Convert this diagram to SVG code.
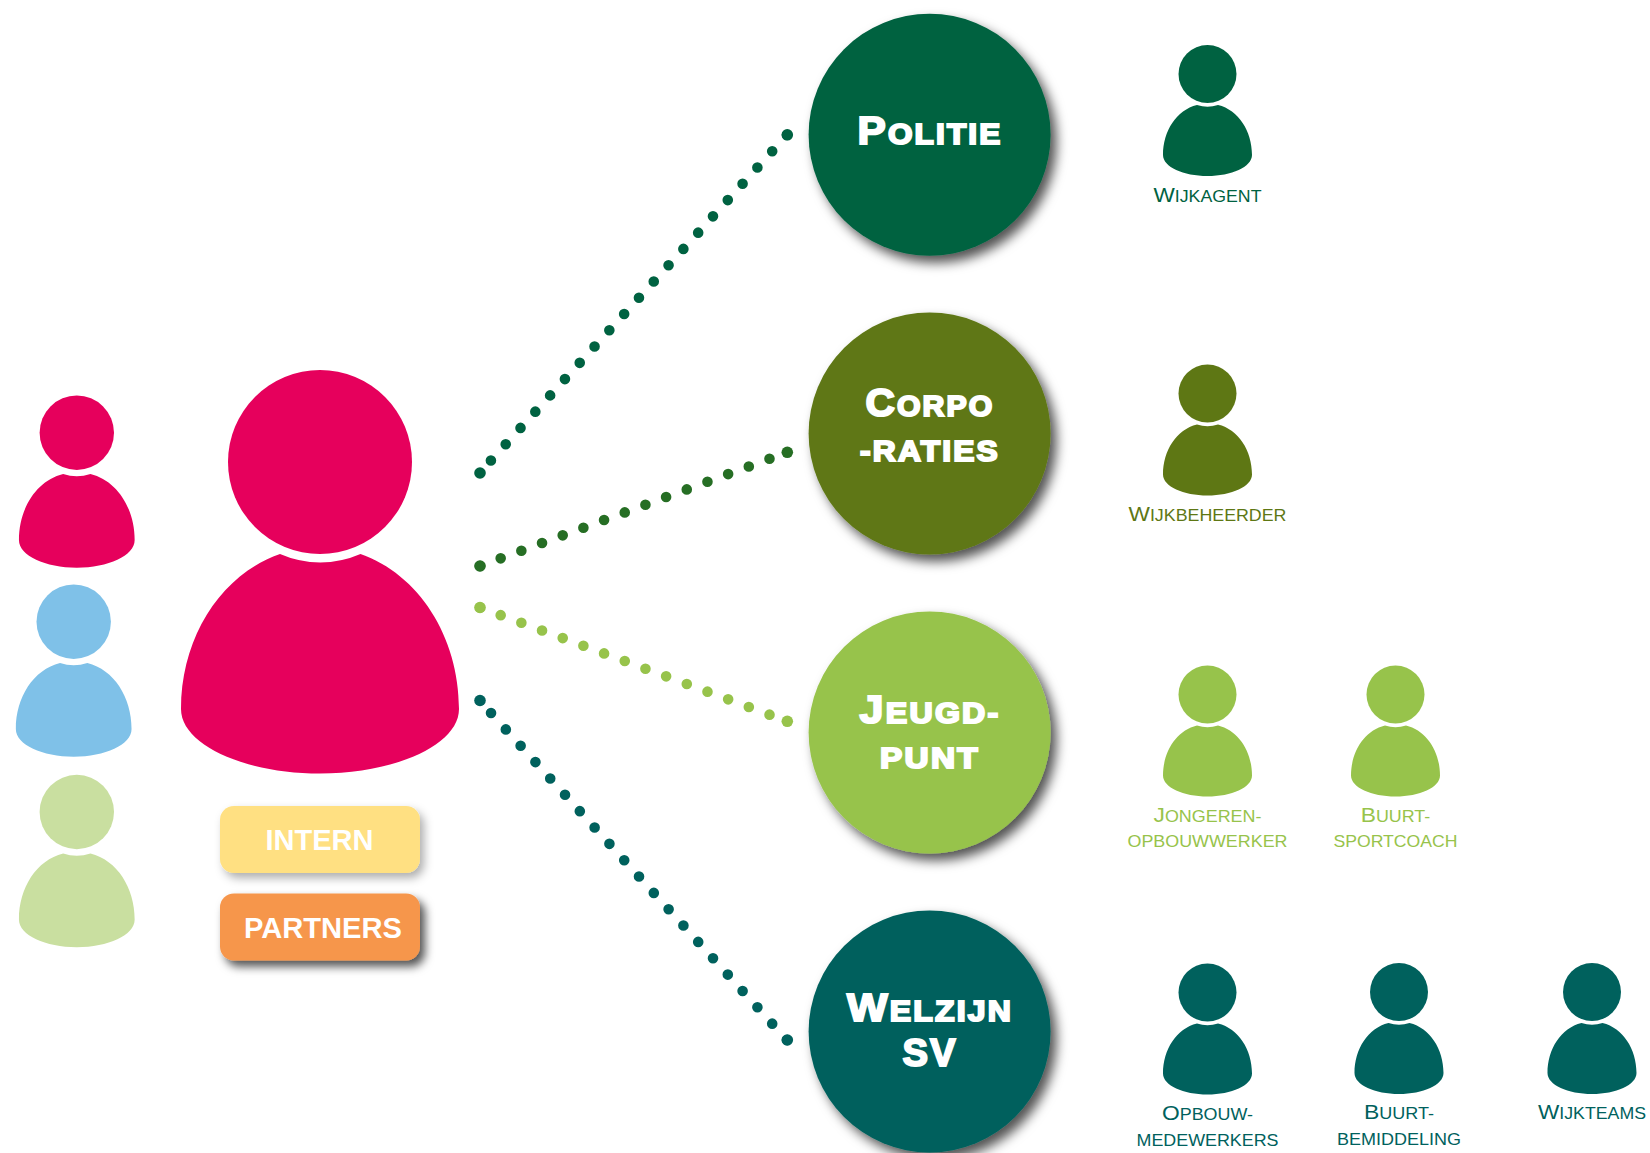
<svg xmlns="http://www.w3.org/2000/svg" width="1650" height="1153" viewBox="0 0 1650 1153">
<style>
text{font-family:"Liberation Sans",Arial,sans-serif;text-anchor:middle}
.t{font-weight:700;fill:#fff;stroke:#fff;stroke-width:2;font-size:29px;letter-spacing:2px}
.t .c{font-size:39px}
.l{font-size:16.5px}
.l .c{font-size:21px}
.b{font-weight:700;fill:#fff;font-size:30px}
.dots line{fill:none;stroke-width:10.6;stroke-linecap:round}
</style>
<defs>
<filter id="sh" x="-20%" y="-20%" width="150%" height="150%"><feDropShadow dx="6" dy="7" stdDeviation="6" flood-color="#000" flood-opacity=".68"/></filter>
<filter id="sh2" x="-20%" y="-30%" width="150%" height="170%"><feDropShadow dx="4" dy="5" stdDeviation="5" flood-color="#000" flood-opacity=".32"/></filter>
<filter id="sh3" x="-20%" y="-30%" width="150%" height="170%"><feDropShadow dx="5" dy="6" stdDeviation="5" flood-color="#000" flood-opacity=".68"/></filter>
<path id="body" d="M-10.5,31A33,33 0 0 0 10.5,31C31,36 44.5,57 44.5,81C44.5,93 24,102 0,102C-24,102 -44.5,93 -44.5,81C-44.5,57 -31,36 -10.5,31Z"/>
<g id="p"><circle cx="0" cy="0" r="29"/><use href="#body"/></g>
</defs>
<rect width="1650" height="1153" fill="#fff"/>
<g id="connectors" class="dots">
<g id="link-politie" fill="#006241"><line x1="787" y1="135" x2="490.7" y2="460.7" stroke="#006241" stroke-dasharray="0 22"/><circle cx="480" cy="473" r="5.8"/><circle cx="787.3" cy="134.8" r="5.8"/></g>
<g id="link-corporaties" fill="#266e24"><line x1="480" y1="566" x2="769.7" y2="458.7" stroke="#266e24" stroke-dasharray="0 22.05"/><circle cx="480" cy="566" r="5.8"/><circle cx="787.3" cy="452.3" r="5.8"/></g>
<g id="link-jeugdpunt" fill="#97c34b"><line x1="480" y1="607.5" x2="769.7" y2="714.7" stroke="#97c34b" stroke-dasharray="0 22.05"/><circle cx="480" cy="607.5" r="5.8"/><circle cx="787.3" cy="721.3" r="5.8"/></g>
<g id="link-welzijn" fill="#00615d"><line x1="787" y1="1040" x2="490.7" y2="712.7" stroke="#00615d" stroke-dasharray="0 22.05"/><circle cx="480" cy="700.5" r="5.8"/><circle cx="787.3" cy="1040" r="5.8"/></g>
</g>
<g id="main-person" fill="#e6005c"><circle cx="320" cy="462" r="92"/><path d="M280,554A100.5,100.5 0 0 0 360.5,554C418,574 459,636 459,709C459,745 395,773.5 320,773.5C245,773.5 181,745 181,709C181,636 222,574 280,554Z"/></g>
<g id="person-red" fill="#e6005c"><circle cx="76.8" cy="432.7" r="37.2"/><use href="#body" transform="translate(76.8,433) scale(1.3,1.32)"/></g>
<g id="person-blue" fill="#7fc1e8"><circle cx="73.7" cy="621.7" r="37.2"/><use href="#body" transform="translate(73.7,622) scale(1.3,1.32)"/></g>
<g id="person-lightgreen" fill="#c9dfa0"><circle cx="76.8" cy="812" r="37.2"/><use href="#body" transform="translate(76.8,812.5) scale(1.3,1.32)"/></g>
<g id="legend-intern"><rect x="220" y="806" width="200" height="67" rx="14" fill="#ffe082" filter="url(#sh2)"/><text class="b" x="319.5" y="850" textLength="108" lengthAdjust="spacingAndGlyphs">INTERN</text></g>
<g id="legend-partners"><rect x="220" y="893.5" width="200" height="67" rx="14" fill="#f6964b" filter="url(#sh3)"/><text class="b" x="323" y="938" textLength="158" lengthAdjust="spacingAndGlyphs">PARTNERS</text></g>
<g id="node-politie"><circle cx="929.6" cy="134.7" r="121" fill="#006241" filter="url(#sh)"/><text class="t" x="930" y="144" textLength="145" lengthAdjust="spacingAndGlyphs"><tspan class="c">P</tspan>OLITIE</text></g>
<g id="node-corporaties"><circle cx="929.6" cy="433.5" r="121" fill="#5e7714" filter="url(#sh)"/><text class="t" x="930" y="416" textLength="129" lengthAdjust="spacingAndGlyphs"><tspan class="c">C</tspan>ORPO</text><text class="t" x="930" y="461" textLength="140" lengthAdjust="spacingAndGlyphs">-RATIES</text></g>
<g id="node-jeugdpunt"><circle cx="929.6" cy="732.5" r="121" fill="#97c34b" filter="url(#sh)"/><text class="t" x="930" y="722.5" textLength="141" lengthAdjust="spacingAndGlyphs"><tspan class="c">J</tspan>EUGD-</text><text class="t" x="930" y="767.5" textLength="100" lengthAdjust="spacingAndGlyphs">PUNT</text></g>
<g id="node-welzijn"><circle cx="929.6" cy="1031.5" r="121" fill="#00615d" filter="url(#sh)"/><text class="t" x="930" y="1021" textLength="166" lengthAdjust="spacingAndGlyphs"><tspan class="c">W</tspan>ELZIJN</text><text class="t" x="930" y="1066" textLength="55" lengthAdjust="spacingAndGlyphs"><tspan class="c">SV</tspan></text></g>
<g id="wijkagent" fill="#006241"><use href="#p" transform="translate(1207.5,74)"/><text class="l" x="1207.5" y="201.5" textLength="108" lengthAdjust="spacingAndGlyphs"><tspan class="c">W</tspan>IJKAGENT</text></g>
<g id="wijkbeheerder" fill="#5e7714"><use href="#p" transform="translate(1207.5,393.5)"/><text class="l" x="1207.5" y="521" textLength="158" lengthAdjust="spacingAndGlyphs"><tspan class="c">W</tspan>IJKBEHEERDER</text></g>
<g id="jongerenopbouwwerker" fill="#97c34b"><use href="#p" transform="translate(1207.5,694.5)"/><text class="l" x="1207.5" y="822" textLength="108" lengthAdjust="spacingAndGlyphs"><tspan class="c">J</tspan>ONGEREN-</text><text class="l" x="1207.5" y="847" textLength="160" lengthAdjust="spacingAndGlyphs">OPBOUWWERKER</text></g>
<g id="buurtsportcoach" fill="#97c34b"><use href="#p" transform="translate(1395.5,694.5)"/><text class="l" x="1395.5" y="822" textLength="69.5" lengthAdjust="spacingAndGlyphs"><tspan class="c">B</tspan>UURT-</text><text class="l" x="1395.5" y="847" textLength="124" lengthAdjust="spacingAndGlyphs">SPORTCOACH</text></g>
<g id="opbouwmedewerkers" fill="#00615d"><use href="#p" transform="translate(1207.5,992.5)"/><text class="l" x="1207.5" y="1120" textLength="91" lengthAdjust="spacingAndGlyphs"><tspan class="c">O</tspan>PBOUW-</text><text class="l" x="1207.5" y="1145.5" textLength="142" lengthAdjust="spacingAndGlyphs">MEDEWERKERS</text></g>
<g id="buurtbemiddeling" fill="#00615d"><use href="#p" transform="translate(1399,992)"/><text class="l" x="1399" y="1119" textLength="70" lengthAdjust="spacingAndGlyphs"><tspan class="c">B</tspan>UURT-</text><text class="l" x="1399" y="1145" textLength="124" lengthAdjust="spacingAndGlyphs">BEMIDDELING</text></g>
<g id="wijkteams" fill="#00615d"><use href="#p" transform="translate(1592,992)"/><text class="l" x="1592" y="1119" textLength="108" lengthAdjust="spacingAndGlyphs"><tspan class="c">W</tspan>IJKTEAMS</text></g>
</svg>
